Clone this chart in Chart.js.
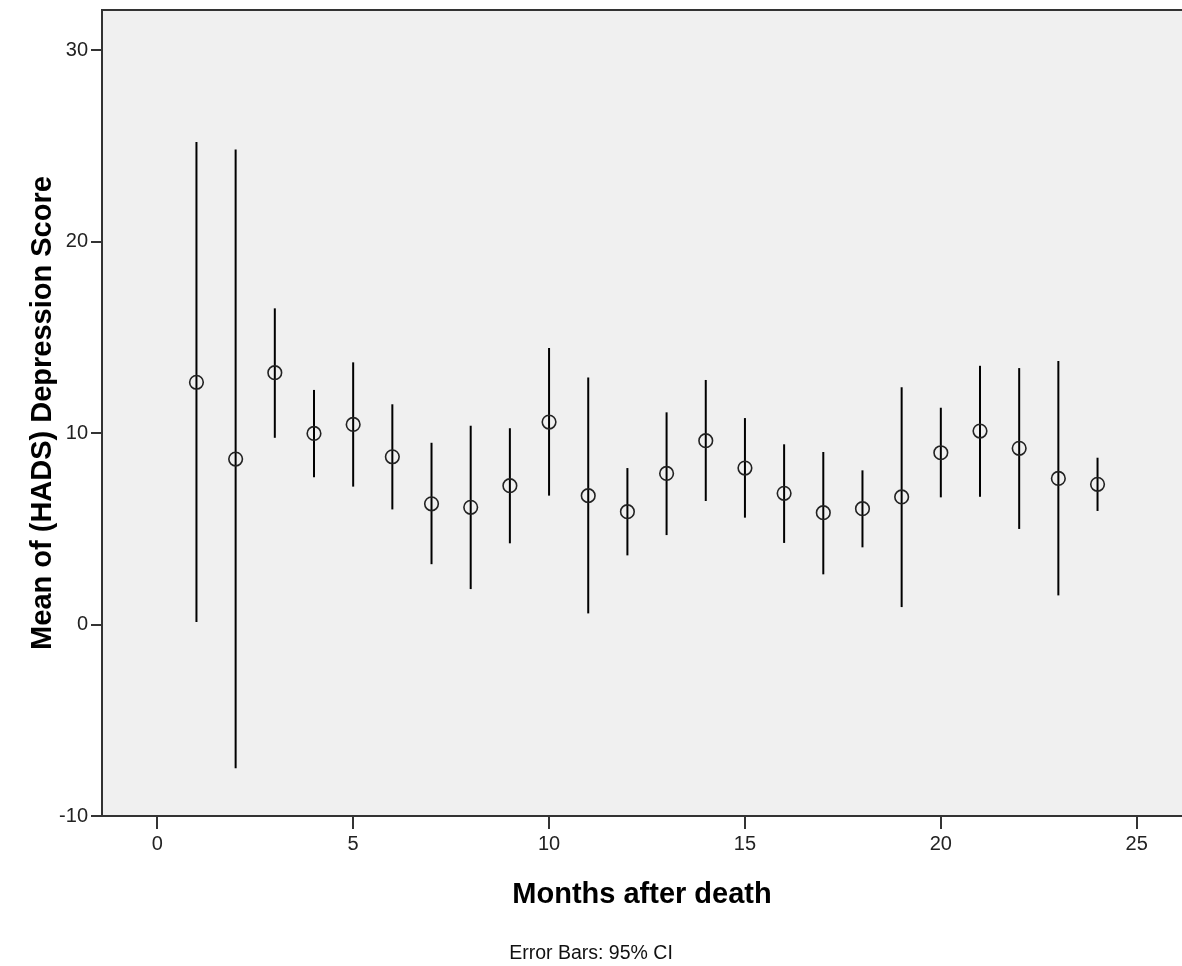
<!DOCTYPE html>
<html>
<head>
<meta charset="utf-8">
<script src="https://cdn.jsdelivr.net/npm/chart.js@4"></script>
<style>
  html, body { margin: 0; padding: 0; background: #ffffff; }
  canvas { display: block; }
</style>
</head>
<body>
<canvas id="c" width="1182" height="966"></canvas>
<script>
// ---- data ----
const months = [1, 2, 3, 4, 5, 6, 7, 8, 9, 10, 11, 12, 13, 14, 15, 16, 17, 18, 19, 20, 21, 22, 23, 24];
const means  = [12.65, 8.64, 13.15, 9.98, 10.45, 8.76, 6.30, 6.12, 7.25, 10.57, 6.73, 5.89, 7.89, 9.60, 8.17, 6.85, 5.84, 6.05, 6.66, 8.97, 10.10, 9.20, 7.63, 7.32];
const lowerCI = [0.13, -7.51, 9.75, 7.69, 7.20, 6.01, 3.15, 1.85, 4.24, 6.73, 0.58, 3.61, 4.67, 6.45, 5.58, 4.26, 2.62, 4.03, 0.91, 6.64, 6.67, 4.99, 1.52, 5.93];
const upperCI = [25.20, 24.81, 16.51, 12.25, 13.69, 11.50, 9.49, 10.38, 10.25, 14.44, 12.90, 8.17, 11.08, 12.77, 10.78, 9.41, 9.01, 8.05, 12.39, 11.32, 13.51, 13.39, 13.76, 8.71];
const xTicks = [0, 5, 10, 15, 20, 25];
const yTicks = [-10, 0, 10, 20, 30];
const xTitle = 'Months after death';
const yTitle = 'Mean of (HADS) Depression Score';
const footNote = 'Error Bars: 95% CI';

const FONT = '"Liberation Sans", Arial, sans-serif';

function noScalePadding(scale) {
  scale.paddingTop = 0;
  scale.paddingBottom = 0;
  scale.paddingLeft = 0;
  scale.paddingRight = 0;
}

const plotFrame = {
  id: 'plotFrame',
  beforeDraw(chart) {
    const { ctx, chartArea: a } = chart;
    ctx.save();
    ctx.fillStyle = '#ffffff';
    ctx.fillRect(0, 0, chart.width, chart.height);
    ctx.fillStyle = '#f0f0f0';
    ctx.fillRect(a.left, a.top, a.right - a.left, a.bottom - a.top);
    ctx.strokeStyle = '#333333';
    ctx.lineWidth = 2;
    ctx.beginPath();
    ctx.moveTo(a.left, a.top);
    ctx.lineTo(a.right, a.top);
    ctx.stroke();
    ctx.restore();
  }
};

const errorBars = {
  id: 'errorBars',
  beforeDatasetsDraw(chart) {
    const { ctx, scales: { x, y } } = chart;
    ctx.save();
    ctx.strokeStyle = '#000000';
    ctx.lineWidth = 2;
    months.forEach((m, i) => {
      const px = x.getPixelForValue(m);
      ctx.beginPath();
      ctx.moveTo(px, y.getPixelForValue(lowerCI[i]));
      ctx.lineTo(px, y.getPixelForValue(upperCI[i]));
      ctx.stroke();
    });
    ctx.restore();
  }
};

new Chart(document.getElementById('c'), {
  type: 'scatter',
  data: {
    datasets: [{
      data: months.map((m, i) => ({ x: m, y: means[i] })),
      pointStyle: 'circle',
      pointRadius: 6.8,
      pointBorderWidth: 1.6,
      pointBorderColor: '#222222',
      pointBackgroundColor: 'rgba(0,0,0,0)',
      showLine: false
    }]
  },
  options: {
    responsive: false,
    animation: false,
    devicePixelRatio: 1,
    layout: { autoPadding: false, padding: { top: 10, right: 0, bottom: 0, left: 0 } },
    plugins: {
      legend: { display: false },
      tooltip: { enabled: false },
      title: {
        display: true,
        position: 'bottom',
        text: footNote,
        color: '#111111',
        font: { family: FONT, size: 19.5, weight: 'normal', lineHeight: 1.2 },
        padding: { top: 0, bottom: 0.5 }
      }
    },
    scales: {
      x: {
        type: 'linear',
        min: -1.411,
        max: 26.156,
        afterFit(scale) { scale.height = 126.1; noScalePadding(scale); },
        afterBuildTicks(scale) { scale.ticks = xTicks.map(v => ({ value: v })); },
        grid: { display: true, drawOnChartArea: false, drawTicks: true, tickLength: 13, color: '#333333', lineWidth: 2 },
        border: { display: true, color: '#333333', width: 2 },
        ticks: { color: '#222222', font: { family: FONT, size: 20 }, padding: 3, maxRotation: 0, autoSkip: false },
        title: {
          display: true,
          text: xTitle,
          color: '#000000',
          font: { family: FONT, size: 29, weight: 'bold', lineHeight: 1.2 },
          padding: { top: 0, bottom: 29.5 }
        }
      },
      y: {
        type: 'linear',
        min: -10,
        max: 32.09,
        afterFit(scale) { scale.width = 102; noScalePadding(scale); },
        afterBuildTicks(scale) { scale.ticks = yTicks.map(v => ({ value: v })); },
        grid: { display: true, drawOnChartArea: false, drawTicks: true, tickLength: 11, color: '#333333', lineWidth: 2 },
        border: { display: true, color: '#333333', width: 2 },
        ticks: { color: '#222222', font: { family: FONT, size: 20 }, padding: 3, autoSkip: false },
        title: {
          display: true,
          text: yTitle,
          color: '#000000',
          font: { family: FONT, size: 29, weight: 'bold', lineHeight: 1.2 },
          padding: { top: 26, bottom: 0 }
        }
      }
    }
  },
  plugins: [plotFrame, errorBars]
});
</script>
</body>
</html>
